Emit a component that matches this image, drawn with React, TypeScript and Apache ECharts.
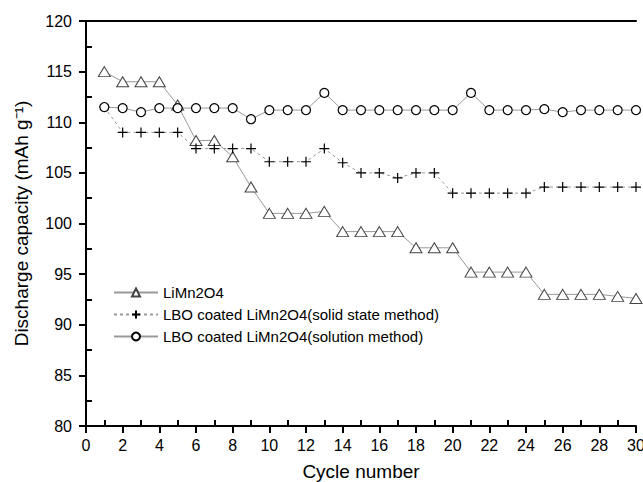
import React, { useEffect, useRef } from "react";
import * as echarts from "echarts";

const cycles = Array.from({ length: 30 }, (_, i) => i + 1);
const limn2o4 = [115, 114, 114, 114, 111.7, 108.2, 108.2, 106.6, 103.6, 101, 101, 101, 101.2, 99.2, 99.2, 99.2, 99.2, 97.6, 97.6, 97.6, 95.2, 95.2, 95.2, 95.2, 93, 93, 93, 93, 92.8, 92.6];
const solidState = [111.5, 109, 109, 109, 109, 107.4, 107.4, 107.4, 107.4, 106.1, 106.1, 106.1, 107.4, 106, 105, 105, 104.5, 105, 105, 103, 103, 103, 103, 103, 103.6, 103.6, 103.6, 103.6, 103.6, 103.6];
const solution = [111.5, 111.4, 111, 111.4, 111.4, 111.4, 111.4, 111.4, 110.3, 111.2, 111.2, 111.2, 112.9, 111.2, 111.2, 111.2, 111.2, 111.2, 111.2, 111.2, 112.9, 111.2, 111.2, 111.2, 111.3, 111, 111.2, 111.2, 111.2, 111.2];
const seriesNames = [
  "LiMn2O4",
  "LBO coated LiMn2O4(solid state method)",
  "LBO coated LiMn2O4(solution method)",
];
const xAxisName = "Cycle number";
const yAxisName = "Discharge capacity (mAh g⁻¹)";

const FONT = "'Liberation Sans', Arial, sans-serif";

export default function App() {
  const ref = useRef<HTMLDivElement>(null);
  useEffect(() => {
    if (!ref.current) return;
    const chart = echarts.init(ref.current, undefined, { renderer: "svg" });
    const pair = (arr: number[]) => arr.map((v, i) => [cycles[i], v]);
    const axisCommon = {
      axisLine: { show: true, lineStyle: { color: "#000", width: 2 } },
      splitLine: { show: false },
    };
    chart.setOption({
      animation: false,
      backgroundColor: "#fff",
      textStyle: { fontFamily: FONT },
      grid: { left: 86, right: 7, top: 21, bottom: 56, show: false, outerBoundsMode: "none", containLabel: false },
      legend: {
        orient: "vertical",
        left: 113,
        top: 285,
        padding: 0,
        itemWidth: 44,
        itemHeight: 10,
        itemGap: 7,
        textStyle: { fontFamily: FONT, fontSize: 15, color: "#000" },
        data: seriesNames,
      },
      xAxis: [
        {
          type: "value",
          min: 0,
          max: 30,
          interval: 2,
          name: xAxisName,
          nameLocation: "middle",
          nameGap: 36,
          nameTextStyle: { fontFamily: FONT, fontSize: 19, color: "#000" },
          ...axisCommon,
          axisTick: { show: true, inside: false, length: 7, lineStyle: { color: "#000", width: 2 } },
          minorTick: { show: true, splitNumber: 2, length: -6, lineStyle: { color: "#000", width: 2 } },
          axisLabel: { fontFamily: FONT, fontSize: 16, color: "#000", margin: 11 },
        },
        {
          type: "value",
          position: "top",
          min: 0,
          max: 30,
          ...axisCommon,
          axisTick: { show: false },
          axisLabel: { show: false },
        },
      ],
      yAxis: [
        {
          type: "value",
          min: 80,
          max: 120,
          interval: 5,
          name: yAxisName,
          nameLocation: "middle",
          nameGap: 55,
          nameRotate: 90,
          nameTextStyle: { fontFamily: FONT, fontSize: 19, color: "#000" },
          ...axisCommon,
          axisTick: { show: true, inside: false, length: 7, lineStyle: { color: "#000", width: 2 } },
          minorTick: { show: true, splitNumber: 2, length: -6, lineStyle: { color: "#000", width: 2 } },
          axisLabel: { fontFamily: FONT, fontSize: 16, color: "#000", margin: 14 },
        },
        {
          type: "value",
          position: "right",
          min: 80,
          max: 120,
          ...axisCommon,
          axisTick: { show: false },
          axisLabel: { show: false },
        },
      ],
      series: [
        {
          name: seriesNames[0],
          type: "line",
          data: pair(limn2o4),
          symbol: "triangle",
          symbolSize: [12, 10],
          lineStyle: { color: "#999", width: 1 },
          itemStyle: { color: "#fff", borderColor: "#444", borderWidth: 1 },
        },
        {
          name: seriesNames[1],
          type: "line",
          data: pair(solidState),
          symbol: "path://M5,0L5,10M0,5L10,5",
          symbolSize: 10,
          lineStyle: { color: "#999", width: 1, type: [3, 3] },
          itemStyle: { color: "none", borderColor: "#000", borderWidth: 1.2 },
        },
        {
          name: seriesNames[2],
          type: "line",
          data: pair(solution),
          symbol: "circle",
          symbolSize: 9,
          lineStyle: { color: "#999", width: 1 },
          itemStyle: { color: "#fff", borderColor: "#000", borderWidth: 1.2 },
        },
      ],
    });
    return () => chart.dispose();
  }, []);
  return (
    <div
      ref={ref}
      style={{ position: "fixed", left: 0, top: 0, width: 643, height: 482, background: "#fff" }}
    />
  );
}
